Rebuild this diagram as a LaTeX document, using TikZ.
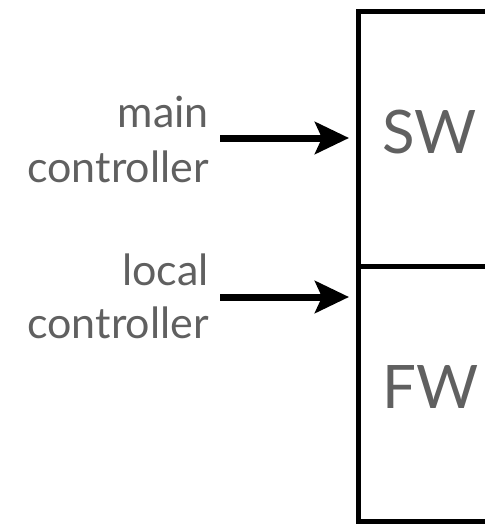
\documentclass[tikz,border=0pt]{standalone}
\usepackage{fontspec}
\setmainfont{Lato}
\usetikzlibrary{arrows.meta}
\definecolor{txt}{HTML}{606060}
\begin{document}
\begin{tikzpicture}[x=1pt,y=-1pt,
  lbl/.style={text=txt, font=\fontsize{43}{54}\selectfont, inner sep=0pt, anchor=base east},
  part/.style={draw, line width=5pt, inner sep=0pt, outer sep=0pt, minimum width=240pt, anchor=north west},
  big/.style={text=txt, font=\fontsize{60}{60}\selectfont, inner sep=0pt, anchor=base west},
  conn/.style={line width=7pt, -{Stealth[length=34pt,width=32pt,inset=7pt]}}]
\useasboundingbox (0,0) rectangle (484,524);
\node[part, minimum height=254pt] (swbox) at (358,12) {};
\node[part, minimum height=255pt] (fwbox) at (swbox.south west) {};
\node[big] (swt) at (382,153) {SW};
\node[big] (fwt) at (382,408) {FW};
\node[lbl] (m1) at (209,128) {main};
\node[lbl] (m2) at (209,182) {controller};
\node[lbl] (l1) at (209,285) {local};
\node[lbl] (l2) at (209,338) {controller};
\coordinate (a1s) at (220,138);
\coordinate (a2s) at (220,297);
\draw[conn] (a1s) -- ([xshift=-9pt]swbox.west |- a1s);
\draw[conn] (a2s) -- ([xshift=-9pt]fwbox.west |- a2s);
\end{tikzpicture}
\end{document}
